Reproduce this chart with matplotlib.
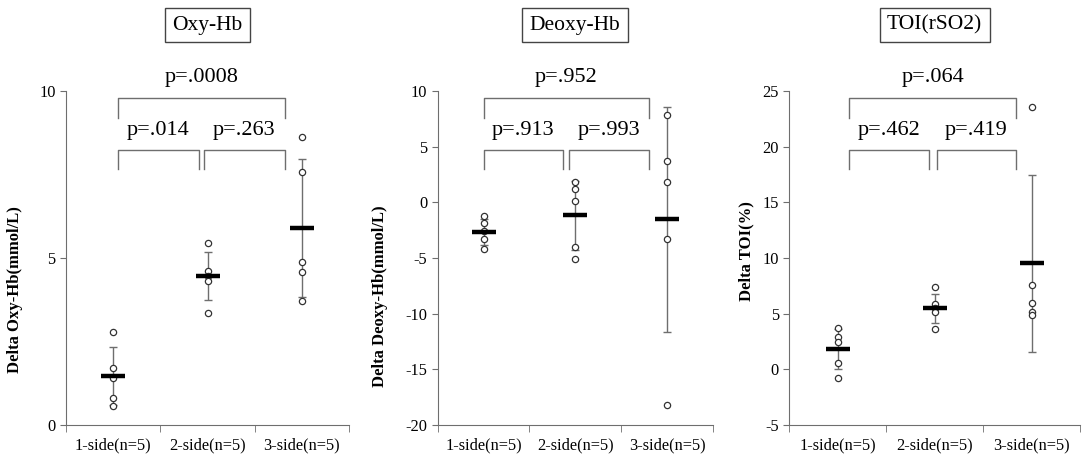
import numpy as np
import matplotlib
matplotlib.use("Agg")
import matplotlib.pyplot as plt
import matplotlib.transforms as mtransforms

plt.rcParams['font.family'] = ['Liberation Serif', 'DejaVu Serif']
plt.rcParams['axes.unicode_minus'] = False

groups = ['1-side(n=5)', '2-side(n=5)', '3-side(n=5)']

# Oxy-Hb
oxy_points = [[2.78, 1.70, 1.40, 0.80, 0.57],
              [5.45, 4.60, 4.46, 4.30, 3.36],
              [8.62, 7.57, 4.88, 4.58, 3.70]]
oxy_mean = [1.47, 4.46, 5.90]
oxy_sd = [0.87, 0.72, 2.06]
oxy_p = ['p=.014', 'p=.263', 'p=.0008']

# Deoxy-Hb
deoxy_points = [[-1.23, -1.83, -2.60, -3.33, -4.22],
                [1.88, 1.22, 0.15, -4.04, -5.12],
                [7.90, 3.71, 1.85, -3.30, -18.2]]
deoxy_mean = [-2.64, -1.14, -1.53]
deoxy_sd = [1.19, 3.10, 10.1]
deoxy_p = ['p=.913', 'p=.993', 'p=.952']

# TOI
toi_points = [[3.68, 2.93, 2.48, 0.54, -0.75],
              [7.37, 5.87, 5.50, 5.18, 3.62],
              [23.54, 7.58, 5.93, 5.18, 4.88]]
toi_mean = [1.85, 5.50, 9.52]
toi_sd = [1.80, 1.30, 7.95]
toi_p = ['p=.462', 'p=.419', 'p=.064']

panels = [
    dict(title='Oxy-Hb', ylabel='Delta Oxy-Hb(mmol/L)', pts=oxy_points, mean=oxy_mean,
         sd=oxy_sd, p=oxy_p, ylim=(0, 10), yticks=[0, 5, 10],
         rect=[0.061, 0.072, 0.2616, 0.729], br=(1.05, 1.91, 1.96, 2.82),
         lab=(-0.180, 0.407)),
    dict(title='Deoxy-Hb', ylabel='Delta Deoxy-Hb(mmol/L)', pts=deoxy_points, mean=deoxy_mean,
         sd=deoxy_sd, p=deoxy_p, ylim=(-20, 10), yticks=list(range(-20, 11, 5)),
         rect=[0.4045, 0.072, 0.2544, 0.729], br=(1.0, 1.87, 1.93, 2.80),
         lab=(-0.21, 0.386)),
    dict(title='TOI(rSO2)', ylabel='Delta TOI(%)', pts=toi_points, mean=toi_mean,
         sd=toi_sd, p=toi_p, ylim=(-5, 25), yticks=list(range(-5, 26, 5)),
         rect=[0.7295, 0.072, 0.2687, 0.729], br=(1.12, 1.94, 2.02, 2.84),
         lab=(-0.146, 0.52)),
]

fig = plt.figure(figsize=(10.82, 4.58), dpi=100)
grey = '#6e6e6e'
xs = np.arange(1, 4)

for pn in panels:
    ax = fig.add_axes(pn['rect'])
    # error bars (mean +- SD)
    ax.errorbar(xs, pn['mean'], yerr=pn['sd'], fmt='none', ecolor=grey,
                elinewidth=1, capsize=3, capthick=1, zorder=1)
    for x, vals in zip(xs, pn['pts']):
        ax.plot([x] * len(vals), vals, 'o', ms=4.5, mfc='white', mec='#333333',
                mew=0.9, zorder=2, clip_on=False)
    ax.plot(xs, pn['mean'], '_', ms=17, mew=3.2, color='black', zorder=3)

    ax.set_xlim(0.5, 3.5)
    ax.set_ylim(*pn['ylim'])
    ax.set_yticks(pn['yticks'])
    ax.set_xticks(xs)
    ax.set_xticklabels(groups, fontsize=11.8)
    ax.set_xticks([0.5, 1.5, 2.5, 3.5], minor=True)
    ax.tick_params(axis='x', which='major', length=0, pad=9)
    ax.tick_params(axis='x', which='minor', length=5, color=grey, direction='out')
    ax.tick_params(axis='y', length=4, color=grey, labelsize=11.8, direction='out')
    for s in ['top', 'right']:
        ax.spines[s].set_visible(False)
    for s in ['left', 'bottom']:
        ax.spines[s].set_color(grey)
    ax.set_ylabel(pn['ylabel'], fontsize=12, fontweight='bold', va='center')
    ax.yaxis.set_label_coords(*pn['lab'])

    # significance brackets (x in data, y in axes fraction), legs point down
    tr = mtransforms.blended_transform_factory(ax.transData, ax.transAxes)
    x1, m1, m2, x2 = pn['br']
    ax.plot([x1, x1, m1, m1], [0.768, 0.823, 0.823, 0.768], color=grey, lw=1,
            transform=tr, clip_on=False)
    ax.plot([m2, m2, x2, x2], [0.768, 0.823, 0.823, 0.768], color=grey, lw=1,
            transform=tr, clip_on=False)
    ax.plot([x1, x1, x2, x2], [0.919, 0.978, 0.978, 0.919], color=grey, lw=1,
            transform=tr, clip_on=False)
    ax.text((x1 + m1) / 2, 0.883, pn['p'][0], transform=tr, ha='center',
            va='center', fontsize=16)
    ax.text((m2 + x2) / 2, 0.883, pn['p'][1], transform=tr, ha='center',
            va='center', fontsize=16)
    ax.text((x1 + x2) / 2, 1.04, pn['p'][2], transform=tr, ha='center',
            va='center', fontsize=16)

    cx = pn['rect'][0] + pn['rect'][2] / 2
    fig.text(cx, 0.945, pn['title'], ha='center', va='center', fontsize=15.5,
             bbox=dict(boxstyle='square,pad=0.35', fc='white', ec='#444444', lw=1))

fig.savefig('out.png', dpi=100)
